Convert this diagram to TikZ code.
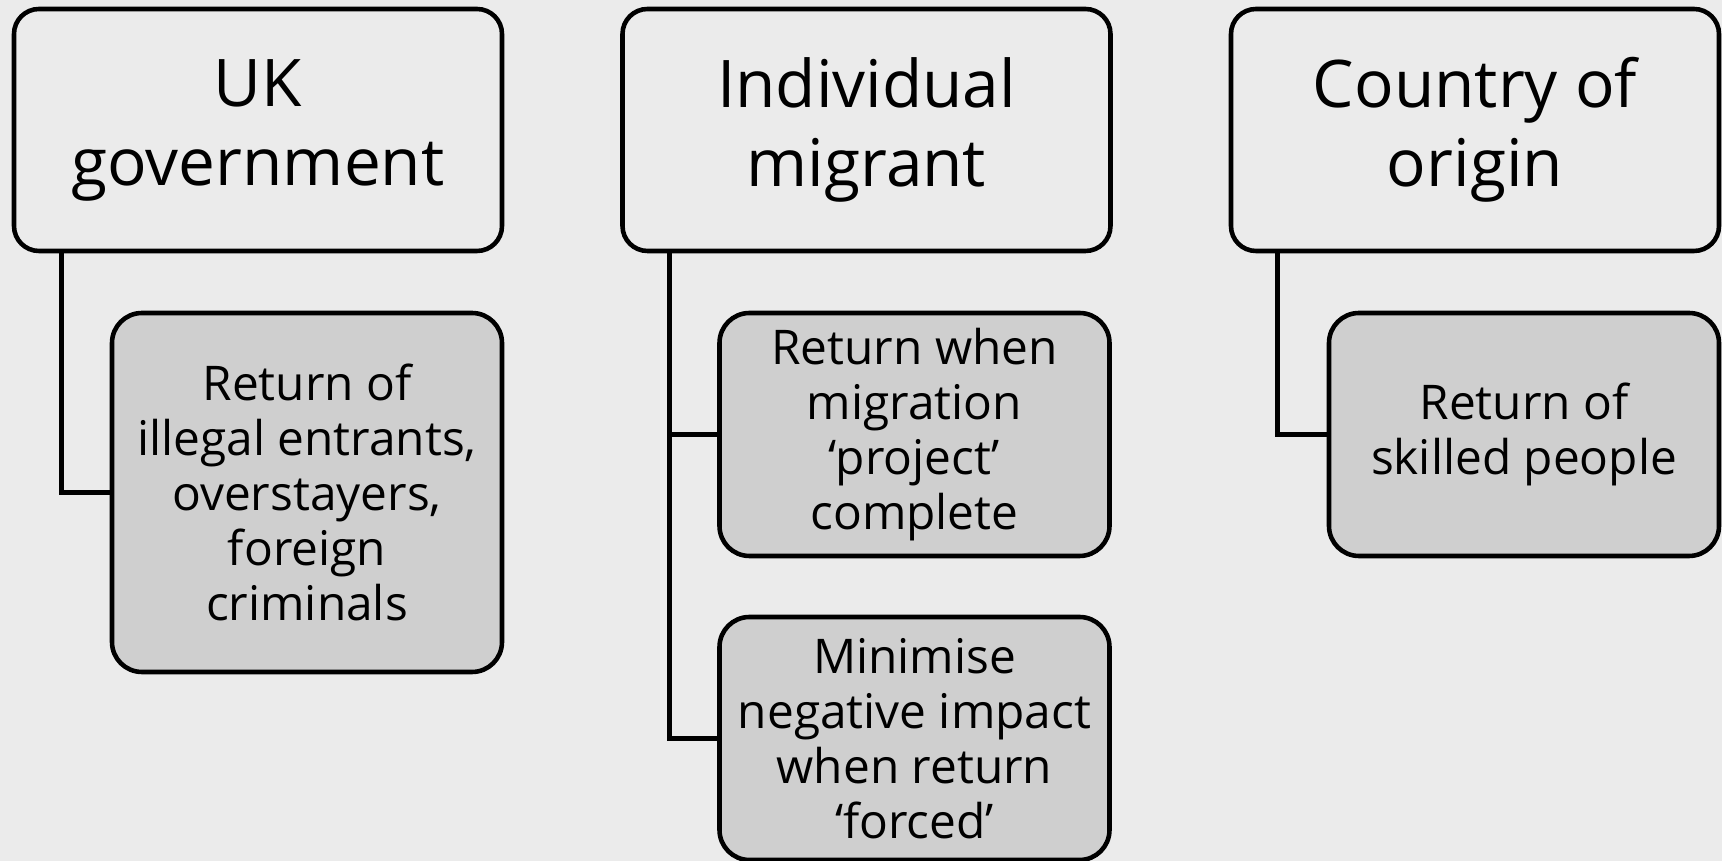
\documentclass[tikz,border=0pt]{standalone}
\usepackage{fontspec}
\setmainfont{Open Sans}
\usepackage{tikz}

\definecolor{bgcol}{HTML}{EBEBEB}
\definecolor{subcol}{HTML}{CFCFCF}

\begin{document}
\begin{tikzpicture}[y=-1cm,
    actor/.style={draw, line width=1.3pt, rounded corners=0.25cm, fill=bgcol,
        minimum width=4.88cm, minimum height=2.42cm, align=center,
        font=\fontsize{18.7}{22.5}\selectfont},
    aim/.style={draw, line width=1.3pt, rounded corners=0.3cm, fill=subcol,
        minimum width=3.9cm, minimum height=2.43cm, align=center,
        font=\fontsize{13.6}{15.6}\selectfont},
    link/.style={line width=1.3pt}]
% background
\fill [bgcol] (0,0) rectangle (17.22,8.61);
\useasboundingbox (0,0) rectangle (17.22,8.61);

% top boxes
\node [actor] (gov) at (2.58,1.30) {UK\\government};
\node [actor] (mig) at (8.665,1.30) {Individual\\migrant};
\node [actor] (coo) at (14.75,1.30) {Country of\\origin};

% aims
\node [aim, minimum height=3.59cm] (illegal) at (3.07,4.925)
    {Return of\\illegal entrants,\\overstayers,\\foreign\\criminals};
\node [aim] (project) at (9.145,4.345)
    {Return when\\migration\\‘project’\\complete};
\node [aim] (forced) at (9.145,7.385)
    {Minimise\\negative impact\\when return\\‘forced’};
\node [aim] (skilled) at (15.24,4.345) {Return of\\skilled people};

% connectors
\draw [link] ([xshift=0.5cm]gov.south west) |- (illegal.west);
\draw [link] ([xshift=0.49cm]mig.south west) |- (forced.west);
\draw [link] ([xshift=0.49cm]mig.south west) |- (project.west);
\draw [link] ([xshift=0.49cm]coo.south west) |- (skilled.west);

\end{tikzpicture}
\end{document}
